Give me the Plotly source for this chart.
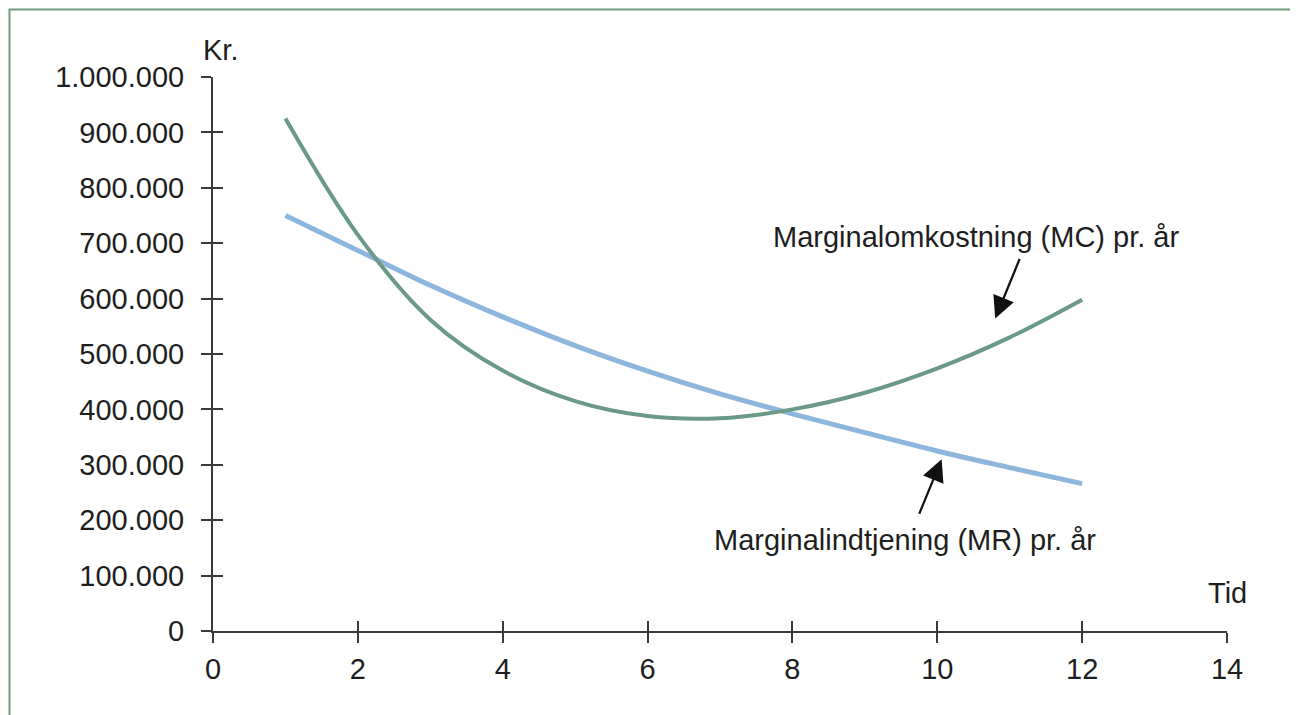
import plotly.graph_objects as go

# Data
tid = [1, 2, 3, 4, 5, 6, 7, 8, 9, 10, 11, 12]
mc = [925000, 715000, 562000, 470000, 415000, 388000, 384000, 400000, 430000, 474000, 530000, 598000]
mr = [750000, 687000, 624000, 567000, 515000, 469000, 428000, 392000, 358000, 325000, 295000, 266000]

x_ticks = [0, 2, 4, 6, 8, 10, 12, 14]
y_ticks = [0, 100000, 200000, 300000, 400000, 500000, 600000, 700000, 800000, 900000, 1000000]

mc_label = "Marginalomkostning (MC) pr. år"
mr_label = "Marginalindtjening (MR) pr. år"
y_title = "Kr."
x_title = "Tid"

FONT = "Liberation Sans, Arial, sans-serif"
FS = 29
AXC = "#3a3a3a"
TXT = "#1e1e1e"

# page body has an 8px margin; plot area should sit at x 213..1227, y 77..631 on screen
ML, MR_, MT, MB = 205, 79, 69, 92

fig = go.Figure()
fig.add_trace(go.Scatter(x=tid, y=mr, mode="lines", line=dict(color="#8db6dc", width=5, shape="spline", smoothing=1.0),
                         name="MR", hoverinfo="skip"))
fig.add_trace(go.Scatter(x=tid, y=mc, mode="lines", line=dict(color="#6b9987", width=4, shape="spline", smoothing=1.0),
                         name="MC", hoverinfo="skip"))
# invisible trace on overlay axes (for crossing tick marks)
fig.add_trace(go.Scatter(x=tid, y=mr, mode="lines", line=dict(width=0), opacity=0,
                         xaxis="x2", yaxis="y2", hoverinfo="skip", showlegend=False))

axis_common = dict(showgrid=False, zeroline=False, tickcolor=AXC, tickwidth=2, ticklen=10)

fig.update_layout(
    width=1298, height=715,
    margin=dict(l=ML, r=MR_, t=MT, b=MB),
    paper_bgcolor="white", plot_bgcolor="white",
    showlegend=False,
    separators=",.",
    font=dict(family=FONT, size=FS, color=TXT),
    xaxis=dict(range=[0, 14], tickvals=x_ticks, ticks="outside", showline=True, linecolor=AXC, linewidth=2,
               tickfont=dict(family=FONT, size=FS, color=TXT), ticklabelstandoff=1, **axis_common),
    yaxis=dict(range=[0, 1000000], tickvals=y_ticks, tickformat=",d", ticks="outside", showline=True,
               linecolor=AXC, linewidth=2, tickfont=dict(family=FONT, size=FS, color=TXT),
               ticklabelstandoff=11, **axis_common),
    xaxis2=dict(range=[0, 14], tickvals=x_ticks, ticks="inside", overlaying="x", anchor="y", side="bottom",
                showticklabels=False, showline=False, **axis_common),
    yaxis2=dict(range=[0, 1000000], tickvals=y_ticks, ticks="inside", overlaying="y", anchor="x", side="left",
                showticklabels=False, showline=False, **axis_common),
)

annotations = [
    dict(x=0.0075, y=1.048, xref="paper", yref="paper", text=y_title, showarrow=False,
         xanchor="center", yanchor="middle", font=dict(family=FONT, size=FS, color=TXT)),
    dict(x=1.0, y=0.068, xref="paper", yref="paper", text=x_title, showarrow=False,
         xanchor="center", yanchor="middle", font=dict(family=FONT, size=FS, color=TXT)),
    dict(x=10.54, y=712000, text=mc_label, showarrow=False, xanchor="center", yanchor="middle",
         font=dict(family=FONT, size=FS, color=TXT)),
    dict(x=9.56, y=164000, text=mr_label, showarrow=False, xanchor="center", yanchor="middle",
         font=dict(family=FONT, size=FS, color=TXT)),
    # arrows
    dict(x=10.8, y=564000, ax=25, ay=-61, text="", showarrow=True, arrowhead=2, arrowsize=2,
         arrowwidth=2.2, arrowcolor="#111111"),
    dict(x=10.06, y=310000, ax=-23, ay=56, text="", showarrow=True, arrowhead=2, arrowsize=2,
         arrowwidth=2.2, arrowcolor="#111111"),
]
fig.update_layout(annotations=annotations)

# green frame around the figure (screen px converted to paper coords; svg starts at screen 8,8)
fig.add_shape(type="rect", xref="paper", yref="paper",
              x0=(9.5 - 213) / 1014, x1=(1320 - 213) / 1014,
              y0=(631 - 740) / 554, y1=(631 - 9.5) / 554,
              line=dict(color="#6f9c7a", width=2), fillcolor="rgba(0,0,0,0)", layer="below")

fig.write_html("out.html")
